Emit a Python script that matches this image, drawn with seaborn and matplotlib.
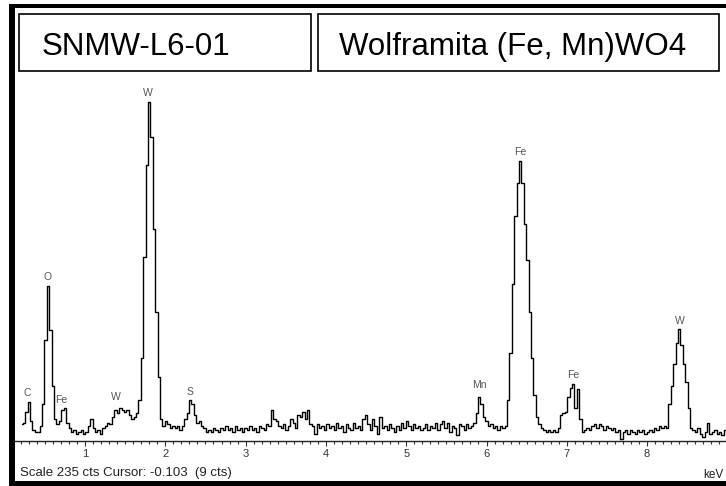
import numpy as np
import pandas as pd
import matplotlib
matplotlib.use("Agg")
import matplotlib.pyplot as plt
from matplotlib.patches import Rectangle
from matplotlib.ticker import MultipleLocator
import seaborn as sns

# ---------------- data ----------------
CHANNEL_STEP = 0.03          # keV per displayed channel
FULL_SCALE = 235             # counts at top of the window

segment_starts = [0.21, 1.02, 2.01, 3.00, 4.02, 5.01, 6.00, 7.02, 8.01]
counts_0 = [9, 10, 16, 21, 11, 6, 5, 5, 8, 20, 55, 84, 60, 30, 12, 9, 11, 17, 18, 10,
            7, 5, 6, 4, 5, 6, 4]
counts_1 = [5, 8, 12, 7, 5, 6, 4, 7, 8, 10, 9, 13, 17, 15, 18, 17, 16, 17, 14, 12,
            13, 15, 22, 45, 100, 150, 184, 165, 115, 70, 35, 12, 8]
counts_2 = [11, 9, 7, 8, 7, 8, 6, 8, 12, 15, 22, 20, 14, 10, 11, 8, 7, 5, 6, 5,
            7, 6, 5, 7, 6, 8, 6, 7, 5, 8, 6, 7, 5]
counts_3 = [7, 6, 8, 6, 7, 5, 8, 7, 6, 9, 8, 17, 12, 11, 8, 7, 9, 6, 8, 12,
            10, 7, 14, 13, 16, 12, 17, 9, 8, 4, 9, 7, 8, 6]
counts_4 = [9, 7, 8, 6, 10, 7, 8, 5, 9, 7, 6, 10, 7, 8, 6, 12, 14, 9, 6, 12,
            8, 4, 13, 7, 8, 6, 9, 7, 5, 8, 6, 10, 7]
counts_5 = [11, 8, 6, 9, 7, 8, 6, 7, 9, 6, 8, 7, 10, 6, 9, 11, 7, 10, 5, 8,
            7, 3, 9, 8, 6, 9, 7, 8, 10, 15, 24, 20, 13]
counts_6 = [11, 8, 9, 7, 8, 6, 8, 7, 8, 22, 48, 85, 122, 140, 152, 140, 118, 98, 70, 45,
            25, 13, 9, 7, 6, 5, 6, 5, 6, 5, 7, 14, 15, 16]
counts_7 = [24, 29, 31, 18, 28, 12, 5, 6, 7, 6, 8, 9, 7, 9, 8, 6, 8, 7, 6, 7,
            5, 6, 1, 5, 6, 4, 6, 5, 4, 6, 5, 6, 4]
counts_8 = [5, 6, 5, 7, 6, 8, 7, 8, 7, 20, 30, 42, 53, 61, 52, 42, 32, 18, 7, 6,
            5, 7, 4, 2, 5, 10, 4, 5, 6, 4, 5, 3, 6]
segments = [counts_0, counts_1, counts_2, counts_3, counts_4,
            counts_5, counts_6, counts_7, counts_8]

peak_labels = ["C", "O", "Fe", "W", "W", "S", "Mn", "Fe", "Fe", "W"]
peak_label_kev = [0.286, 0.539, 0.710, 1.382, 1.785, 2.308, 5.910, 6.417, 7.081, 8.410]
peak_label_cts = [26.0, 89.0, 22.2, 24.0, 188.8, 26.7, 30.4, 157.0, 35.8, 65.3]

tick_values = [1, 2, 3, 4, 5, 6, 7, 8]
tick_labels = ["1", "2", "3", "4", "5", "6", "7", "8"]

sample_name = "SNMW-L6-01"
mineral_name = "Wolframita (Fe, Mn)WO4"
status_text = "Scale 235 cts Cursor: -0.103  (9 cts)"
unit_text = "keV"

# ---------------- table ----------------
frames = []
for start, seg in zip(segment_starts, segments):
    e = np.round(start + CHANNEL_STEP * np.arange(len(seg)), 3)
    frames.append(pd.DataFrame({"keV": e, "cts": seg}))
df = pd.concat(frames, ignore_index=True)

# ---------------- figure ----------------
sns.set_theme(style="white")
plt.rcParams["font.family"] = ["Liberation Sans", "DejaVu Sans"]

W, H = 726, 486
fig = plt.figure(figsize=(W / 100, H / 100), dpi=100)
fig.patch.set_facecolor("white")


def rect_px(x0, y0, x1, y1):
    return [x0 / W, 1 - y1 / H, (x1 - x0) / W, (y1 - y0) / H]


PX_PER_KEV = 80.3
KEV_ZERO_PX = 4.7
ax = fig.add_axes(rect_px(15, 8, 726, 441))
ax.set_facecolor("white")

sns.lineplot(data=df, x="keV", y="cts", ax=ax, color="black", linewidth=1.0,
             drawstyle="steps-mid", estimator=None, legend=False)

ax.set_xlim((15 - KEV_ZERO_PX) / PX_PER_KEV, (726 - KEV_ZERO_PX) / PX_PER_KEV)
ax.set_ylim(0, FULL_SCALE)
ax.set_xlabel("")
ax.set_ylabel("")
ax.set_yticks([])
ax.set_xticks(tick_values)
ax.set_xticklabels(tick_labels)
ax.xaxis.set_minor_locator(MultipleLocator(0.1))
ax.tick_params(axis="x", which="both", bottom=True, direction="out", color="#333333")
ax.tick_params(axis="x", which="major", length=3.6, width=0.8, labelsize=8,
               labelcolor="#333333", pad=2.5)
ax.tick_params(axis="x", which="minor", length=1.8, width=0.8)
for s in ["left", "top", "right"]:
    ax.spines[s].set_visible(False)
ax.spines["bottom"].set_color("#222222")
ax.spines["bottom"].set_linewidth(1.0)

for lab, e, c in zip(peak_labels, peak_label_kev, peak_label_cts):
    ax.text(e, c, lab, ha="center", va="center", fontsize=7.5, color="#555555")

# status line and unit
fig.text(20 / W, 1 - 473 / H, status_text, fontsize=9.5, ha="left", va="center",
         color="#222222")
fig.text(703 / W, 1 - 475 / H, unit_text, fontsize=8.5, ha="left", va="center",
         color="#222222")

# outer thick frame (cropped on the right)
for x0, y0, x1, y1 in [(9, 4, 15, 486), (9, 4, 726, 8), (9, 481, 726, 486)]:
    r = rect_px(x0, y0, x1, y1)
    fig.add_artist(Rectangle((r[0], r[1]), r[2], r[3], transform=fig.transFigure,
                             facecolor="black", edgecolor="none", zorder=10))

# header boxes
for (x0, x1), txt, tx in [((19, 311), sample_name, 42), ((318, 719), mineral_name, 339)]:
    r = rect_px(x0, 14, x1, 71)
    fig.add_artist(Rectangle((r[0], r[1]), r[2], r[3], transform=fig.transFigure,
                             facecolor="white", edgecolor="black", linewidth=1.2,
                             zorder=11))
    fig.text(tx / W, 1 - 55 / H, txt, fontsize=22.5, ha="left", va="baseline",
             color="black", zorder=12)

fig.savefig("out.png", dpi=100)
